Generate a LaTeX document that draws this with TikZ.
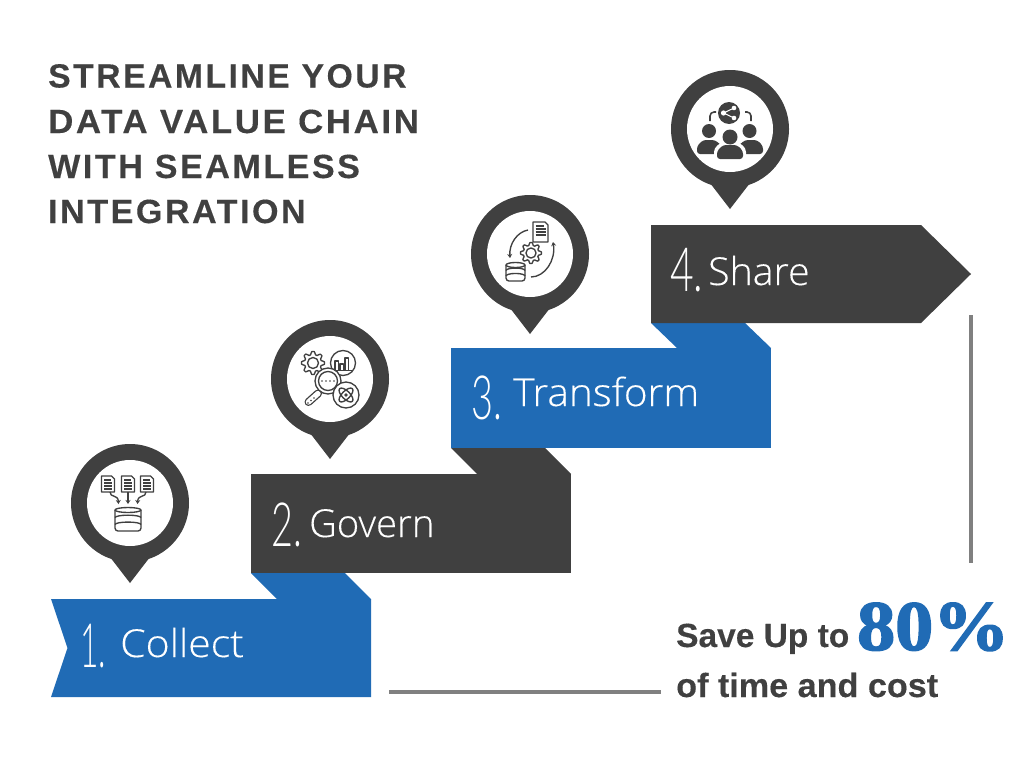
\documentclass[tikz,border=0pt]{standalone}
\usepackage{fontspec}
\setmainfont{Liberation Sans}
\newfontfamily\headfont[LetterSpace=7.5,FakeBold=0.3]{Liberation Sans Bold}
\newfontfamily\lightfont[FakeBold=0.25]{Open Sans Light}
\newfontfamily\digitfont{Lato Light}
\newfontfamily\boldfont[FakeBold=0.3]{Liberation Sans Bold}
\newfontfamily\bigserif[FakeBold=2.2]{Liberation Serif Bold}
\usetikzlibrary{arrows.meta}
\definecolor{ink}{HTML}{404040}
\definecolor{brand}{HTML}{206BB5}
\definecolor{rulegray}{HTML}{808080}
\newcommand{\fs}[1]{\fontsize{#1}{#1}\selectfont}
\newcommand{\stepnum}[2][0.62]{\scalebox{#1}[1]{\digitfont\fs{61}#2}}
\tikzset{
  x=1pt,y=-1pt,
  pinshape/.style={fill=ink,draw=none},
  stepname/.style={anchor=base west,inner sep=0pt,text=white,font=\lightfont\fs{38.5}},
  stepdigit/.style={anchor=base west,inner sep=0pt,text=white},
  headline/.style={anchor=base west,inner sep=0pt,text=ink,font=\headfont\fs{33.5}},
  savetext/.style={anchor=base west,inner sep=0pt,text=ink,font=\boldfont\fs{33.5}},
  icon/.style={draw=ink,line width=1.35pt,line join=round,fill=none},
  arr/.style={icon,-{Stealth[length=4pt,width=5pt]}},
  sep/.style={draw=rulegray,line width=3.6pt},
}
\newcommand{\pinat}[2]{%
  \fill[pinshape] (#1,#2) circle[radius=59];
  \fill[pinshape] ({#1-20},{#2+54}) -- (#1,{#2+80}) -- ({#1+20},{#2+54}) -- cycle;
  \fill[white] (#1,#2) circle[radius=43];
}
\newcommand{\docglyph}[4]{% x y halfw halfh
  \draw[icon,fill=white] ({#1-#3},{#2-#4}) -- ({#1+#3-3},{#2-#4}) -- ({#1+#3},{#2-#4+3}) -- ({#1+#3},{#2+#4}) -- ({#1-#3},{#2+#4}) -- cycle;
  \draw[icon,line width=1.1pt] ({#1-#3+2.5},{#2-#4+4}) -- ({#1+#3-4},{#2-#4+4})
     ({#1-#3+2.5},{#2-#4+7}) -- ({#1+#3-2.5},{#2-#4+7})
     ({#1-#3+2.5},{#2-#4+10}) -- ({#1+#3-2.5},{#2-#4+10})
     ({#1-#3+2.5},{#2-#4+13}) -- ({#1+#3-2.5},{#2-#4+13});
}
\newcommand{\gearglyph}[3]{%
  \draw[icon,rotate around={11:(#1,#2)}] plot[samples=65,domain=0:360,variable=\t]
     ({#1+(#3*(0.87+0.13*sign(sin(8*\t))))*cos(\t)},{#2+(#3*(0.87+0.13*sign(sin(8*\t))))*sin(\t)}) -- cycle;
  \draw[icon] (#1,#2) circle[radius={0.48*#3}];
}
\newcommand{\dbglyph}[4]{%
  \draw[icon,rounded corners=3pt] (#1,{#3+2}) -- (#1,#4) -- (#2,#4) -- (#2,{#3+2});
  \draw[icon] ({(#1+#2)/2},{#3+2}) ellipse[x radius={(#2-#1)/2},y radius=2.5];
  \draw[icon] (#1,{#3+(#4-#3)*0.42}) arc[start angle=180,end angle=360,x radius={(#2-#1)/2},y radius=2.5];
  \draw[icon] (#1,{#3+(#4-#3)*0.72}) arc[start angle=180,end angle=360,x radius={(#2-#1)/2},y radius=2.5];
}
\begin{document}
\begin{tikzpicture}
\useasboundingbox (0,0) rectangle (1024,768);
\fill[white] (0,0) rectangle (1024,768);
\draw[sep] (971,315) -- (971,563);
\draw[sep] (389,692) -- (661,692);
\fill[brand] (251,573) -- (345,573) -- (371,599) -- (277,599) -- cycle;
\fill[ink]   (451,448) -- (545,448) -- (571,474) -- (477,474) -- cycle;
\fill[brand] (651,323) -- (745,323) -- (771,348) -- (677,348) -- cycle;
\fill[brand] (51,599) -- (371,599) -- (371,697) -- (51,697) -- (67.5,648) -- cycle;
\fill[ink]   (251,474) rectangle (571,573);
\fill[brand] (451,348) rectangle (771,448);
\fill[ink]   (651,225) -- (921,225) -- (971,274) -- (921,323) -- (651,323) -- cycle;
\node[stepdigit] (d1) at (80,667) {\stepnum[0.52]{1.}};
\node[stepname] (n1) at (120,657) {\scalebox{1.065}[1]{Collect}};
\node[stepdigit] (d2) at (271,546) {\stepnum{2.}};
\node[stepname] (n2) at (309,537) {\scalebox{0.993}[1]{Govern}};
\node[stepdigit] (d3) at (471,419) {\stepnum{3.}};
\node[stepname] (n3) at (513,406) {\scalebox{1.053}[1]{Transform}};
\node[stepdigit] (d4) at (670,291) {\stepnum[0.67]{4.}};
\node[stepname] (n4) at (708,285) {\scalebox{1.02}[1]{Share}};
\node[headline] (h1) at (48,87.5) {\scalebox{1.005}[1]{STREAMLINE YOUR}};
\node[headline] (h2) at (48,133) {\scalebox{1.04}[1]{DATA VALUE CHAIN}};
\node[headline] (h3) at (48,178) {\scalebox{1.016}[1]{WITH SEAMLESS}};
\node[headline] (h4) at (48,223) {\scalebox{1.016}[1]{INTEGRATION}};
\node[savetext] (s1) at (676,647) {Save Up to};
\node[anchor=base west,inner sep=0pt,text=brand,font=\bigserif\fs{71}] (s2) at (857,650) {\scalebox{1.07}[1]{80\%}};
\node[savetext] (s3) at (676,697) {\scalebox{1.02}[1]{of time and cost}};
\pinat{130}{503}
\pinat{330}{379}
\pinat{530}{254}
\pinat{730}{129}
% icon 1
\docglyph{108}{484}{6.5}{8}
\docglyph{128}{484}{6.5}{8}
\docglyph{147}{484}{6.5}{8}
\draw[arr] (128,492) -- (128,504);
\draw[arr] (110,492) .. controls (110,498) and (118,494) .. (118.5,504);
\draw[arr] (146,492) .. controls (146,498) and (138,494) .. (137.5,504);
\dbglyph{115}{141}{508}{531}
% icon 2
\gearglyph{313}{363}{11.5}
\draw[icon,fill=white] (343,363) circle[radius=12.5];
\draw[icon,line width=1.1pt] (335,370) -- (335,361) -- (338.5,361) -- (338.5,370) (340,370) -- (340,364) -- (343.5,364) -- (343.5,370) (345,370) -- (345,358) -- (348.5,358) -- (348.5,370) (333,370.5) -- (352,370.5);
\draw[ink,line width=8pt,line cap=round] (308.5,402) -- (318,393.5);
\draw[white,line width=5.4pt,line cap=round] (308.5,402) -- (318,393.5);
\draw[icon,fill=white] (328,381) circle[radius=13];
\draw[icon] (328,381) circle[radius=9.5];
\fill[ink] (322,381) circle[radius=.9] (326,381) circle[radius=.9] (330,381) circle[radius=.9] (334,381) circle[radius=.9];
\fill[ink] (308,403) circle[radius=.9] (311,400.5) circle[radius=.9] (314,398) circle[radius=.9];
\draw[icon,fill=white] (346,395) circle[radius=13];
\draw[icon,rotate around={45:(346,395)}] (346,395) ellipse[x radius=9,y radius=4];
\draw[icon,rotate around={-45:(346,395)}] (346,395) ellipse[x radius=9,y radius=4];
\fill[ink] (346,395) circle[radius=1.8];
% icon 3
\docglyph{540.5}{232}{7.5}{10}
\gearglyph{531}{253}{10.5}
\dbglyph{506}{525}{263}{281}
\draw[arr] (528,230) .. controls (517,232) and (509,244) .. (510,258);
\draw[arr] (531,277) .. controls (545,277) and (556,260) .. (553,242);
% icon 4
\fill[ink] (729,113) circle[radius=11];
\draw[white,line width=1pt] (734,108) -- (723.5,113) -- (734,118);
\fill[white] (734,108) circle[radius=2.3] (723.5,113) circle[radius=2.6] (734,118) circle[radius=2.3];
\draw[icon,line width=1.6pt] (710,121) -- (710,116) arc[start angle=180,end angle=270,radius=4] -- (716,112);
\draw[icon,line width=1.6pt] (751,121) -- (751,116) arc[start angle=360,end angle=270,radius=4] -- (745,112);
\fill[ink] (709,131) circle[radius=7] (749.5,131) circle[radius=7];
\fill[ink,rounded corners=3pt] (697,154) -- (697,146) -- (703,140) -- (715,140) -- (722,146) -- (722,154) -- cycle;
\fill[ink,rounded corners=3pt] (738,154) -- (738,146) -- (745,140) -- (757,140) -- (763,146) -- (763,154) -- cycle;
\fill[white] (730,137) circle[radius=9.5];
\fill[white,rounded corners=4pt] (714,161) -- (714,148) -- (722,142) -- (738,142) -- (746,148) -- (746,161) -- cycle;
\fill[ink] (730,137) circle[radius=7.5];
\fill[ink,rounded corners=3pt] (717,159) -- (717,151) -- (723,145) -- (737,145) -- (743,151) -- (743,159) -- cycle;
\end{tikzpicture}
\end{document}
